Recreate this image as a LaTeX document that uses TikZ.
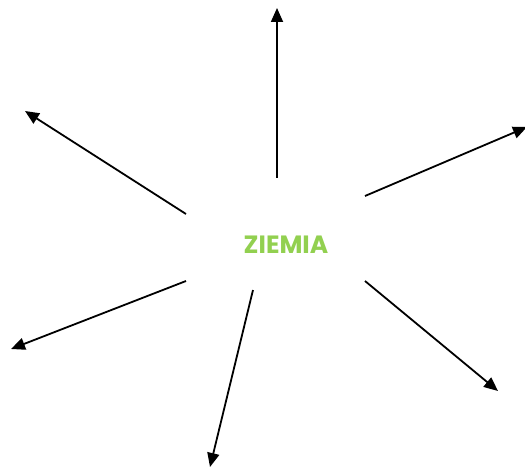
\documentclass[tikz,border=0pt]{standalone}
\usepackage{fontspec}
\newfontfamily\titlefont{Poppins}
\usetikzlibrary{arrows.meta}
\definecolor{zgreen}{HTML}{92D050}
\tikzset{
  ray/.style={line width=1.8pt, -{Triangle[length=14pt,width=12pt]}},
  title/.style={font=\titlefont\fontsize{25}{25}\selectfont\bfseries, text=zgreen, inner sep=0pt}
}
\begin{document}
\begin{tikzpicture}[x=1pt,y=-1pt]
\useasboundingbox (0,0) rectangle (525,468);
\node[title] (z) at (286,245) {ZIEMIA};
\coordinate (s1) at (277,178); \coordinate (e1) at (277,8);
\coordinate (s2) at (186,214); \coordinate (e2) at (25,111);
\coordinate (s3) at (365,196); \coordinate (e3) at (527,127);
\coordinate (s4) at (186,281); \coordinate (e4) at (11,349);
\coordinate (s5) at (253,290); \coordinate (e5) at (210,467);
\coordinate (s6) at (365,281); \coordinate (e6) at (498,391);
\foreach \i in {1,...,6} {\draw[ray] (s\i) -- (e\i);}
\end{tikzpicture}
\end{document}
